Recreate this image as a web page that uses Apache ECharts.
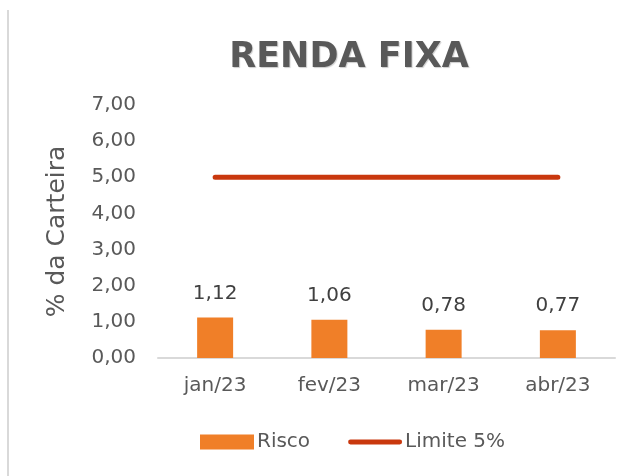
<!DOCTYPE html>
<html>
<head>
<meta charset="utf-8">
<script src="https://cdn.jsdelivr.net/npm/echarts@6/dist/echarts.min.js"></script>
<style>
  html, body { margin: 0; padding: 0; background: #fff; }
  #chart { width: 636px; height: 476px; }
</style>
</head>
<body>
<div id="chart"></div>
<script>
// dados do grafico
const meses = ["jan/23", "fev/23", "mar/23", "abr/23"];
const risco = [1.12, 1.06, 0.78, 0.77];
const limite = [5, 5, 5, 5];

const fonte = "'DejaVu Sans', 'Noto Sans', sans-serif";
const fmt = v => v.toFixed(2).replace(".", ",");

let myChart = echarts.init(document.getElementById("chart"));
myChart.setOption({
  animation: false,
  textStyle: { fontFamily: fonte },
  title: {
    text: "RENDA FIXA",
    left: 344,
    top: 35,
    textAlign: "center",
    textStyle: {
      fontFamily: fonte,
      fontSize: 35,
      fontWeight: 900,
      color: "#595959",
      textShadowColor: "rgba(0,0,0,0.2)",
      textShadowBlur: 1,
      textShadowOffsetX: 1,
      textShadowOffsetY: 1
    }
  },
  graphic: [
    {
      type: "line",
      shape: { x1: 8, y1: 10, x2: 8, y2: 476 },
      style: { stroke: "#d9d9d9", lineWidth: 2 }
    }
  ],
  legend: {
    bottom: 24,
    left: 200,
    padding: 0,
    itemGap: 38,
    textStyle: { fontSize: 20, color: "#595959", fontFamily: fonte, padding: [0, 0, 0, -2] },
    data: [
      { name: "Risco", icon: "rect", itemStyle: { color: "#F07F28" } },
      {
        name: "Limite 5%",
        icon: "path://M2.5,0 L53.5,0 A2.5,2.5 0 0 1 53.5,5 L2.5,5 A2.5,2.5 0 0 1 2.5,0 Z",
        itemStyle: { color: "#C9380E" }
      }
    ],
    itemWidth: 54,
    itemHeight: 15
  },
  grid: { left: 158, right: 21, top: 105, bottom: 118 },
  xAxis: {
    type: "category",
    data: meses,
    axisLine: { lineStyle: { color: "#d9d9d9", width: 2 } },
    axisTick: { show: false },
    axisLabel: { fontSize: 20, color: "#595959", margin: 18 }
  },
  yAxis: {
    type: "value",
    min: 0,
    max: 7,
    interval: 1,
    name: "% da Carteira",
    nameLocation: "middle",
    nameGap: 88,
    nameTextStyle: { fontSize: 25, color: "#595959" },
    splitLine: { show: false },
    axisLine: { show: false },
    axisTick: { show: false },
    axisLabel: { fontSize: 20, color: "#595959", margin: 22, formatter: fmt }
  },
  series: [
    {
      name: "Risco",
      type: "bar",
      data: risco,
      barWidth: 36,
      itemStyle: { color: "#F07F28" },
      label: {
        show: true,
        position: "top",
        distance: 14,
        fontSize: 20,
        color: "#404040",
        formatter: p => fmt(p.value)
      }
    },
    {
      name: "Limite 5%",
      type: "line",
      data: limite,
      symbol: "none",
      lineStyle: { color: "#C9380E", width: 5, cap: "round" },
      itemStyle: { color: "#C9380E" }
    }
  ]
});
</script>
</body>
</html>
